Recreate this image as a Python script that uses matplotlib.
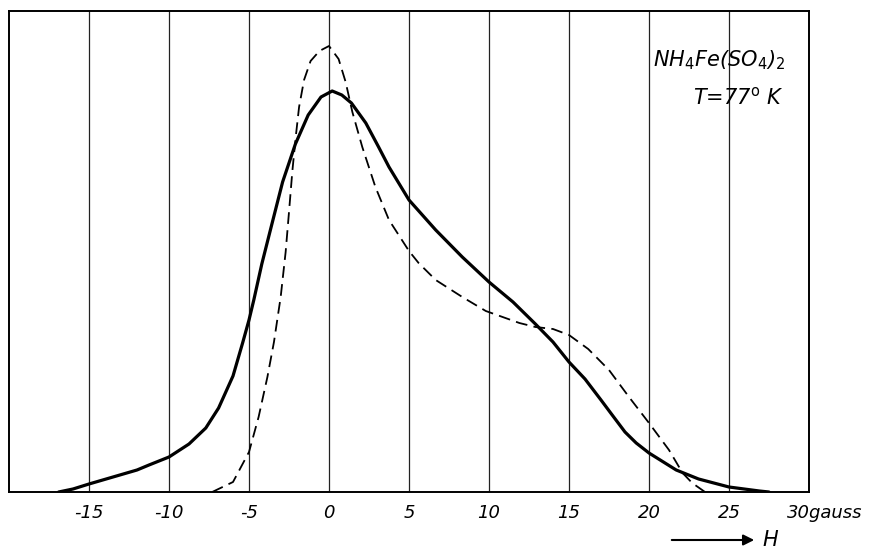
import matplotlib
matplotlib.use("Agg")
import matplotlib.pyplot as plt

# Solid curve (H in gauss, intensity in arbitrary units)
solid_H = [-16.9, -16, -15, -13.5, -12, -11.25, -10, -8.75, -7.7, -6.9, -6.0, -5.4, -5.0,
           -4.7, -4.2, -3.6, -2.9, -2.1, -1.3, -0.5, 0.2, 0.8, 1.4, 2.3, 3.1, 3.75, 5.0,
           6.67, 8.33, 10, 11.5, 12.9, 14.0, 15, 16.0, 17.0, 17.7, 18.5, 19.2, 20, 21.0,
           21.7, 23.1, 25, 26.9, 27.5]
solid_I = [0, 3, 8, 15, 22, 27, 35, 48, 64, 84, 116, 149, 172,
           192, 228, 266, 310, 348, 377, 395, 401, 397, 389, 369, 345, 325, 292,
           262, 235, 210, 190, 168, 150, 130, 113, 92, 77, 60, 49, 39, 29,
           22, 13, 5, 1, 0]

# Dashed curve
dashed_H = [-7.3, -6.0, -5.0, -4.4, -3.85, -3.44, -3.02, -2.71, -2.5, -2.29, -2.08, -1.87,
            -1.56, -1.15, -0.6, 0.0, 0.6, 1.04, 1.46, 2.08, 2.9, 3.75, 5.0, 5.6, 6.67,
            8.33, 9.8, 11.9, 12.9, 14.0, 15, 16.2, 17.5, 18.75, 20, 21.25, 22.1, 22.7, 23.5]
dashed_I = [0, 10, 40, 75, 115, 150, 195, 240, 280, 321, 355, 385,
            412, 431, 441, 446, 433, 410, 380, 345, 305, 272, 241, 229, 212,
            195, 181, 169, 165, 163, 157, 143, 122, 95, 69, 42, 19, 9, 0]

tick_values = [-15, -10, -5, 0, 5, 10, 15, 20, 25]
tick_labels = ["-15", "-10", "-5", "0", "5", "10", "15", "20", "25"]
last_label = "30gauss"
title_line1 = r"NH$_4$Fe(SO$_4$)$_2$"
title_line2 = r"T=77$^{\mathrm{o}}$ K"
axis_name = "H"

plt.rcParams['font.family'] = ['DejaVu Sans']
plt.rcParams['mathtext.default'] = 'it'

fig = plt.figure(figsize=(8.78, 5.51), dpi=100)
ax = fig.add_axes([9/878, 59/551, 800/878, 481/551])
ax.set_xlim(-20, 30)
ax.set_ylim(0, 481)

ax.set_xticks(tick_values)
ax.set_xticklabels(tick_labels, fontsize=13, style='italic')
ax.tick_params(axis='x', length=0, pad=9)
ax.set_yticks([])
ax.grid(axis='x', color='#222222', lw=0.9)
for s in ax.spines.values():
    s.set_linewidth(1.4)
    s.set_color('black')

ax.plot(solid_H, solid_I, color='black', lw=2.3, solid_capstyle='round', solid_joinstyle='round')
ax.plot(dashed_H, dashed_I, color='black', lw=1.3, linestyle=(0, (6.5, 3.5)))

ax.annotate(last_label, xy=(30, 0), xycoords=('data', 'axes fraction'),
            xytext=(-22, -21), textcoords='offset pixels', ha='left', va='center',
            fontsize=13, style='italic')

fig.text(653/878, 1 - 60/551, title_line1, fontsize=15, style='italic', ha='left', va='center')
fig.text(693/878, 1 - 97/551, title_line2, fontsize=15, style='italic', ha='left', va='center')

ax.annotate("", xy=(757, 11), xycoords='figure pixels', xytext=(669, 11),
            textcoords='figure pixels',
            arrowprops=dict(arrowstyle='-|>', lw=1.5, color='black', mutation_scale=16))
fig.text(762/878, 11/551, axis_name, fontsize=15, style='italic', ha='left', va='center')

fig.savefig("out.png", dpi=100)
